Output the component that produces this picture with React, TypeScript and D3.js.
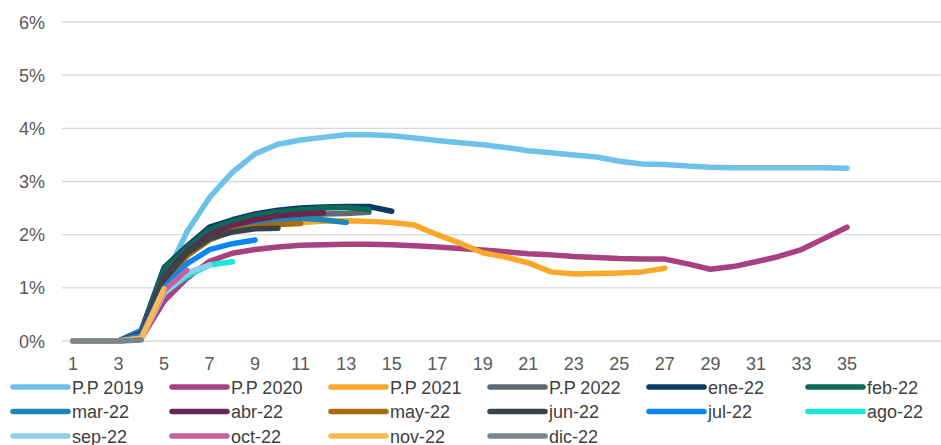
import React, { useEffect, useRef } from 'react';
import * as d3 from 'd3';

// periods 1..35 along the x axis
const periods = d3.range(1, 36);
const xTickLabels = d3.range(1, 36, 2);
const yTickLabels = [0, 1, 2, 3, 4, 5, 6];

const seriesNames = [
  'P.P 2019', 'P.P 2020', 'P.P 2021', 'P.P 2022',
  'ene-22', 'feb-22', 'mar-22', 'abr-22', 'may-22', 'jun-22',
  'jul-22', 'ago-22', 'sep-22', 'oct-22', 'nov-22', 'dic-22',
];

const seriesColors = [
  '#6EC1E8', '#A8417F', '#FBA72A', '#5F6B73',
  '#0C3A68', '#0B6A58', '#1E86B5', '#6A2550', '#A96B0B', '#3A4347',
  '#0A85F2', '#17E8D3', '#8FD0EE', '#C4629F', '#FFB94F', '#7A868C',
];

// values in %
const pp2019 = [0, 0, 0, 0.15, 1.15, 2.05, 2.7, 3.17, 3.52, 3.7, 3.78, 3.83, 3.88, 3.88, 3.86, 3.82, 3.77, 3.73, 3.69, 3.64, 3.58, 3.54, 3.5, 3.46, 3.38, 3.33, 3.32, 3.29, 3.27, 3.26, 3.26, 3.26, 3.26, 3.26, 3.25];
const pp2020 = [0, 0, 0, 0.05, 0.75, 1.18, 1.5, 1.65, 1.72, 1.77, 1.8, 1.81, 1.82, 1.82, 1.81, 1.79, 1.77, 1.74, 1.71, 1.68, 1.64, 1.62, 1.59, 1.57, 1.55, 1.54, 1.54, 1.45, 1.35, 1.4, 1.49, 1.59, 1.72, 1.93, 2.14];
const pp2021 = [0, 0, 0, 0.05, 0.95, 1.6, 1.95, 2.1, 2.17, 2.21, 2.23, 2.25, 2.26, 2.25, 2.23, 2.18, 2.0, 1.84, 1.66, 1.58, 1.47, 1.3, 1.26, 1.27, 1.28, 1.3, 1.37];
const pp2022 = [0, 0, 0, 0.1, 1.2, 1.7, 2.0, 2.15, 2.25, 2.32, 2.36, 2.39, 2.4, 2.42];
const ene22 = [0, 0, 0, 0.2, 1.38, 1.78, 2.14, 2.28, 2.39, 2.46, 2.5, 2.52, 2.53, 2.53, 2.44];
const feb22 = [0, 0, 0, 0.18, 1.35, 1.75, 2.1, 2.25, 2.36, 2.43, 2.47, 2.5, 2.51, 2.47];
const mar22 = [0, 0, 0, 0.2, 1.1, 1.65, 1.95, 2.1, 2.2, 2.27, 2.31, 2.28, 2.23];
const abr22 = [0, 0, 0, 0.15, 1.2, 1.68, 2.0, 2.17, 2.28, 2.35, 2.39, 2.41];
const may22 = [0, 0, 0, 0.1, 1.1, 1.6, 1.9, 2.07, 2.15, 2.19, 2.21];
const jun22 = [0, 0, 0, 0.1, 1.15, 1.65, 1.93, 2.05, 2.11, 2.12];
const jul22 = [0, 0, 0, 0.1, 1.0, 1.45, 1.72, 1.83, 1.9];
const ago22 = [0, 0, 0, 0.05, 0.9, 1.22, 1.43, 1.49];
const sep22 = [0, 0, 0, 0.05, 0.9, 1.28, 1.43];
const oct22 = [0, 0, 0, 0.05, 0.95, 1.33];
const nov22 = [0, 0, 0, 0.05, 0.98];
const dic22 = [0, 0, 0, 0.02];

const seriesValues = [
  pp2019, pp2020, pp2021, pp2022,
  ene22, feb22, mar22, abr22, may22, jun22,
  jul22, ago22, sep22, oct22, nov22, dic22,
];

const App = () => {
  const ref = useRef<SVGSVGElement>(null);

  useEffect(() => {
    document.body.style.margin = '0';
    const width = 941;
    const height = 445;
    const gridLeft = 62;
    const fontFamily = 'Arial, "Liberation Sans", sans-serif';

    const svg = d3.select(ref.current);
    svg.selectAll('*').remove();

    const x = d3.scaleLinear().domain([1, 35]).range([73, 847]);
    const y = d3.scaleLinear().domain([0, 6]).range([341, 22]);

    // gridlines
    svg
      .append('g')
      .selectAll('line')
      .data(yTickLabels)
      .join('line')
      .attr('x1', gridLeft)
      .attr('x2', width)
      .attr('y1', (d) => y(d))
      .attr('y2', (d) => y(d))
      .attr('stroke', '#D9D9D9')
      .attr('stroke-width', 1.3);

    // y labels
    svg
      .append('g')
      .selectAll('text')
      .data(yTickLabels)
      .join('text')
      .attr('x', 45)
      .attr('y', (d) => y(d) + 6.5)
      .attr('text-anchor', 'end')
      .attr('font-family', fontFamily)
      .attr('font-size', 18)
      .attr('fill', '#595959')
      .text((d) => `${d}%`);

    // x labels
    svg
      .append('g')
      .selectAll('text')
      .data(xTickLabels)
      .join('text')
      .attr('x', (d) => x(d))
      .attr('y', 369.5)
      .attr('text-anchor', 'middle')
      .attr('font-family', fontFamily)
      .attr('font-size', 18)
      .attr('fill', '#595959')
      .text((d) => d);

    const line = d3
      .line<number>()
      .x((_, i) => x(periods[i]))
      .y((d) => y(d));

    svg
      .append('g')
      .attr('fill', 'none')
      .attr('stroke-width', 5.5)
      .attr('stroke-linecap', 'round')
      .attr('stroke-linejoin', 'round')
      .selectAll('path')
      .data(seriesValues)
      .join('path')
      .attr('stroke', (_, i) => seriesColors[i])
      .attr('d', (d) => line(d));

    // legend: 6 columns, 3 rows
    const legend = svg.append('g');
    seriesNames.forEach((name, i) => {
      const col = i % 6;
      const row = Math.floor(i / 6);
      const lx = 13 + col * 159;
      const ly = 387 + row * 24.5;
      legend
        .append('line')
        .attr('x1', lx)
        .attr('x2', lx + 55)
        .attr('y1', ly)
        .attr('y2', ly)
        .attr('stroke', seriesColors[i])
        .attr('stroke-width', 5.5)
        .attr('stroke-linecap', 'round');
      legend
        .append('text')
        .attr('x', lx + 59)
        .attr('y', ly + 6.5)
        .attr('font-family', fontFamily)
        .attr('font-size', 18)
        .attr('fill', '#404040')
        .text(name);
    });
  }, []);

  return <svg ref={ref} width={941} height={445} style={{ display: 'block' }} />;
};

export default App;
